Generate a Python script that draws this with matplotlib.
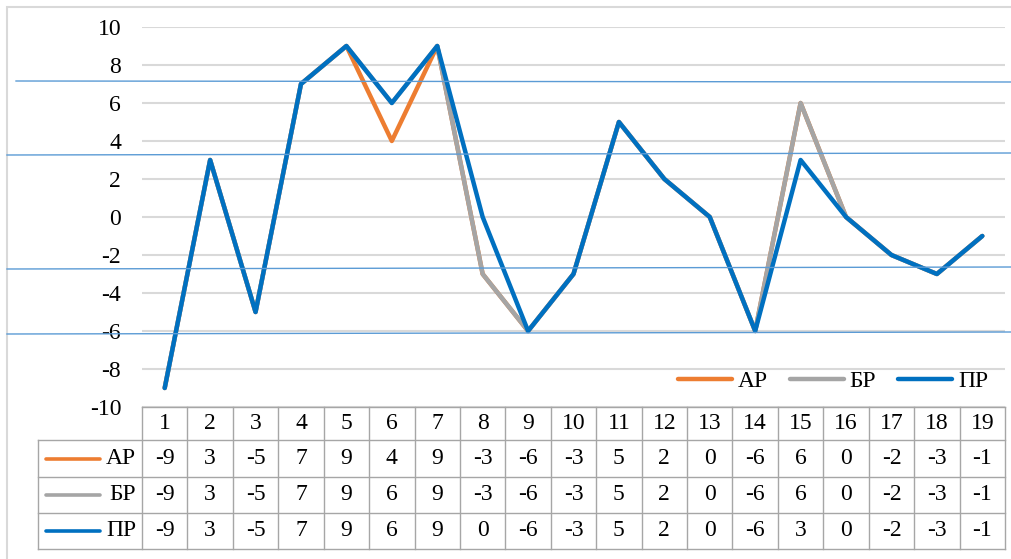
import matplotlib
matplotlib.use("Agg")
import matplotlib.pyplot as plt
from matplotlib.lines import Line2D
from matplotlib.patches import Rectangle

plt.rcParams['font.family'] = ['Liberation Serif', 'DejaVu Serif']
plt.rcParams['axes.unicode_minus'] = False

# data
categories = list(range(1, 20))
ar = [-9, 3, -5, 7, 9, 4, 9, -3, -6, -3, 5, 2, 0, -6, 6, 0, -2, -3, -1]
br = [-9, 3, -5, 7, 9, 6, 9, -3, -6, -3, 5, 2, 0, -6, 6, 0, -2, -3, -1]
pr = [-9, 3, -5, 7, 9, 6, 9, 0, -6, -3, 5, 2, 0, -6, 3, 0, -2, -3, -1]
names = ['АР', 'БР', 'ПР']
yticks = list(range(-10, 11, 2))

colors = ['#ED7D31', '#A5A5A5', '#0070C0']
W, H = 1012, 559
FS = 17


def px(x0, y0, x1, y1):
    # pixel box -> figure fraction rect
    return [x0 / W, 1 - y1 / H, (x1 - x0) / W, (y1 - y0) / H]


fig = plt.figure(figsize=(W / 100, H / 100), dpi=100)

# outer chart border
fig.add_artist(Rectangle((7 / W, -0.1), 1.2, 1 - 7 / H + 0.1, transform=fig.transFigure,
                         fill=False, ec='#D9D9D9', lw=1.5))

# main plot
ax = fig.add_axes(px(142, 27, 1005, 407))
for vals, name, c in zip([ar, br, pr], names, colors):
    ax.plot(categories, vals, color=c, lw=3.2, label=name,
            solid_capstyle='round', solid_joinstyle='round')
ax.set_xlim(0.5, 19.5)
ax.set_ylim(-10, 10)
ax.set_yticks(yticks)
ax.set_xticks([])
ax.yaxis.grid(True, color='#D9D9D9', lw=1.5)
ax.set_axisbelow(True)
for s in ax.spines.values():
    s.set_visible(False)
ax.tick_params(axis='y', length=0, pad=15, labelsize=FS)

ax.legend(loc='center right', bbox_to_anchor=(988 / W, 1 - 381 / H), bbox_transform=fig.transFigure,
          ncol=3, frameon=False, fontsize=FS, handlelength=2.3, handletextpad=0.25,
          columnspacing=0.9, borderpad=0, borderaxespad=0)

# data table
unit = 863 / 19
left = 0.5 - 104 / unit
rows = [0, 33, 70, 106, 142]
tb = fig.add_axes(px(38, 407, 1005, 549))
tb.set_xlim(left, 19.5)
tb.set_ylim(142, 0)
tb.axis('off')
bc = '#A6A6A6'
tb.plot([0.5, 19.5], [rows[0], rows[0]], color=bc, lw=1, clip_on=False)
for r in rows[1:]:
    tb.plot([left, 19.5], [r, r], color=bc, lw=1, clip_on=False)
for i in range(20):
    tb.plot([0.5 + i, 0.5 + i], [rows[0], rows[-1]], color=bc, lw=1, clip_on=False)
tb.plot([left, left], [rows[1], rows[-1]], color=bc, lw=1, clip_on=False)

for c in categories:
    tb.text(c, (rows[0] + rows[1]) / 2, str(c), ha='center', va='center', fontsize=FS)
for k, (vals, name, col) in enumerate(zip([ar, br, pr], names, colors)):
    ym = (rows[k + 1] + rows[k + 2]) / 2
    tb.plot([left + 8 / unit, left + 62 / unit], [ym, ym], color=col, lw=2.6, solid_capstyle='round')
    tb.text(0.5 - 6 / unit, ym, name, ha='right', va='center', fontsize=FS)
    for c, v in zip(categories, vals):
        tb.text(c, ym, str(v), ha='center', va='center', fontsize=FS)

# thin blue lines drawn over the chart
for x0, y0, x1, y1 in [(16, 81, 1012, 82), (7, 155, 1012, 153),
                       (7, 269, 1012, 267), (7, 334, 1012, 332)]:
    fig.add_artist(Line2D([x0 / W, x1 / W], [1 - y0 / H, 1 - y1 / H],
                          color='#5B9BD5', lw=1, transform=fig.transFigure))

fig.savefig('out.png', dpi=100)
